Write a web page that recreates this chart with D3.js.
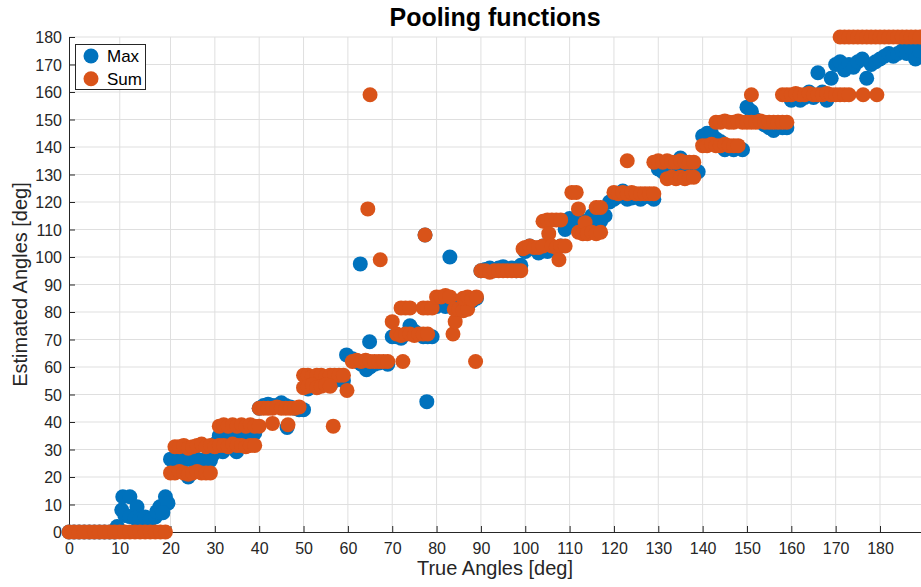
<!DOCTYPE html>
<html>
<head>
<meta charset="utf-8">
<script src="https://cdn.jsdelivr.net/npm/d3@7"></script>
<style>
  body { margin: 0; background: #fff; }
  svg { display: block; font-family: "Liberation Sans", Arial, Helvetica, sans-serif; }
  .grid line { stroke: #dfdfdf; stroke-width: 1; }
  .tick text { fill: #262626; font-size: 16px; }
</style>
</head>
<body>
<svg id="chart" width="921" height="587"></svg>
<script>
// Chart data
const xTicks = d3.range(0, 181, 10);
const yTicks = d3.range(0, 181, 10);
const seriesNames = ["Max", "Sum"];
const seriesColors = ["#0072BD", "#D95319"];

// Max pooling: [true angle, estimated angle]
const maxPoints = [
  [0,0],[1,0],[2,0],[3,0],[4,0],[5,0],[6,0],[7,0],[8,0],[9,0],[9.5,2],
  [10.4,8],[10.6,12.8],[12,12.8],[11,6],[12,5.6],[13.4,9.2],[13,5],[14,4.5],[15,5.5],[16,4.5],
  [17,5.5],[17.3,7.4],[17.9,9.2],[19,12.8],[19.5,10.5],[18.5,7],
  [20,26.5],[21,26.5],[22,26.5],[23,26],[24,20],[24.5,26.5],[25,26],[26,26.5],[27,26],[28,26.5],[29,26],[29.5,28],
  [30,32],[31,35],[31.8,29.2],[32,35],[33,35.5],[34,35],[34.9,29.2],[35,35],[36,35.5],[37,35],[38,35],[39,36],
  [40,45],[41,46],[42,46.5],[43,46],[44,46],[45,47],[46,46],[46.3,38],[47,45.5],[48,45],[49,44.5],
  [50,44.5],[51,52],[52,54],[53,55],[54,55.5],[55,55],[56,55.5],[57,55],[58,56],[59,55],
  [59.7,64.4],[61,63],[62,62],[62.8,97.5],[63,61],[64.2,59],[64.9,69.2],[65,60],[66,61],[67,61.5],[68.8,61.4],[69,61],
  [70,71],[71,71],[72,70.5],[73,72],[74,75],[75,73],[76,72],[77,71],[77.4,108],[77.8,47.4],[78,71],[79,71],
  [80,82],[81,83],[82,82],[83,100],[84,84],[85,83],[86,82],[87,82],[88,84],[89,85],
  [90,95],[91,95.5],[92,96],[93,95],[94,96],[95,96.5],[96,95.5],[97,96],[98,95],[99,97],
  [100,102],[101,104],[102,103],[103,101.5],[104,104],[105,102],[106,103],[107,103],[108,104],[109,110],
  [110,114],[111,113],[112,114],[113,112],[114,113],[115,115],[116,111],[117,113],[118,115],[119,120],
  [120,121],[121,122],[122,124],[123,121],[124,121.5],[125,122],[126,121],[127,122],[128,122],[129,121],
  [130,132],[131,131],[132,131.5],[133,132],[134,131],[135,136],[136,132],[137,131],[138,130],[139,131],
  [140,144],[141,145],[142,145],[143,143],[144,142],[145,139],[146,140],[147,139],[148,140],[149,139],
  [150,154.5],[151,153],[152,150],[153,149],[154,148],[155,147],[156,146],[157,148],[158,147],[159,147],
  [160,157],[161,158],[162,157],[163,158],[164,160],[165,158],[166,167],[167,160],[168,157],[169,165],
  [170,170],[171,171],[172,168],[173,170],[174,169],[175,171],[176,172],[177,165],[178,170],[179,171],
  [180,172],[181,173],[182,174],[183,173],[184,174],[185,175],[186,174],[187,176],[188,172],[189,175]
];

// Sum pooling: [true angle, estimated angle]
const sumPoints = [
  [0,0],[1,0],[2,0],[3,0],[4,0],[5,0],[6,0],[7,0],[8,0],[9,0],
  [10,0],[11,0],[12,0],[13,0],[14,0],[15,0],[16,0],[17,0],[18,0],[19,0],
  [20,21.5],[21,21.5],[22,22],[23,21.5],[24,21],[25,21.5],[26,22],[27,21.5],[28,21.5],[29,21.5],
  [21,31],[22,31],[23,31.5],[24,30.5],[25,31],[26,31.5],[27,32],[28,31],[29,31.5],
  [30,31],[31,31.5],[32,31.5],[33,31],[34,32],[35,31.5],[36,31.5],[37,31],[38,31.5],[39,31.5],
  [31,38.5],[32,39],[33,38.5],[34,39],[35,38.5],[36,39],[37,38.5],[38,39],[39,38.5],[40,38.5],
  [40,45],[41,45],[42,45],[43,45],[43,39.5],[44,45.5],[45,45],[46,45],[46.5,39],[47,45],[48,45],[49,45.5],
  [50,57],[51,57],[52,56.5],[53,57],[54,57],[55,56.5],[56,57],[57,57],[58,57],[59,57],
  [50,52.5],[51,53],[52,53.5],[53,52.5],[54,53],[55,53.5],[56,53],[56.7,38.5],[59.8,51.5],
  [61,62],[62,62.5],[63,62],[64,62.5],[64.5,117.5],[65,159],[65,62],[66,62],[67,62],[67.3,99],[68,62],[69,62],
  [70,76.5],[71,72],[72,81.5],[72.4,62],[73,81.5],[74,81.5],[72,71.5],[73,72],[74,72],[75,71.5],[76,72],[77,72],[77.4,108],[78,72],
  [77,81.5],[78,81.5],[79,81.5],[80,85.5],[81,85.5],[82,86],[83,85.5],[83.7,72],[84.2,76.5],
  [84,81],[85,81],[86,80.5],[87,81],[86,85],[87,85.5],[88,84.5],[88.8,62],[89,85.5],
  [90,95],[91,95],[92,94.5],[93,95],[94,95],[95,95],[96,95],[97,95],[98,95],[99,95],
  [99.5,103],[100,103.5],[101,104],[102,103.5],[103,103.5],[104,104],
  [104,113],[105,113.5],[106,113.5],[107,113.5],[108,113.5],[105.3,108.5],
  [106,104],[107,103.5],[107.6,99],[108,104],[109,104],
  [110.5,123.5],[111.5,123.5],[112,117.5],[112,109],[113,108.5],[113.5,112.5],[114,108.5],[115,109],[116,108.5],[117,109],[116,118],[117,118],
  [120,123.5],[121,123],[122,123.5],[123,123],[123,135],[124,123.5],[125,123],[126,123],[127,123],[128,123],[129,123],
  [129,134.5],[130,135],[131,134.5],[132,135],[133,134.5],[134,134.5],[135,135],[136,134.5],[137,134.5],[138,134.5],
  [132,128.5],[133,129],[134,128.5],[135,129],[136,128.5],[137,129],[138,129],
  [140,140.5],[141,140.5],[142,141],[143,140.5],[144,140.5],[145,141],[146,140.5],[147,140.5],[148,140.5],
  [143,149],[144,149],[145,149.5],[146,149],[147,149],[148,149.5],[149,149],[150,149],[151,149],[151,159],
  [152,149],[153,149.5],[154,149],[155,149],[156,149],[157,149],[158,149],[159,149],
  [158,159],[159,159],[160,159],[161,159.5],[162,159],[163,159],[164,159.5],[165,159],[166,159],[167,159],
  [168,159.5],[169,159],[170,159],[171,159],[172,159],[173,159],[176.2,159],[179.3,159],
  [171,180],[172,180],[173,180],[174,180],[175,180],[176,180],[177,180],[178,180],[179,180],
  [180,180],[181,180],[182,180],[183,180],[184,180],[185,180],[186,180],[187,180],[188,180],[189,180]
];

const width = 921;
const height = 587;
const plotLeft = 69, plotRight = 921, plotTop = 37, plotBottom = 532;

const svg = d3.select("#chart");

// x axis in the picture is stretched over the first 20 degrees
const x = d3.scaleLinear()
    .domain([0, 20, 180])
    .range([plotLeft, 170.5, 880]);

const y = d3.scaleLinear()
    .domain([0, 180])
    .range([plotBottom, plotTop]);

// Grid
const grid = svg.append("g").attr("class", "grid");
grid.selectAll(".vg")
    .data(xTicks.filter(d => d > 0))
    .enter().append("line")
    .attr("x1", d => x(d)).attr("x2", d => x(d))
    .attr("y1", plotTop).attr("y2", plotBottom);
grid.selectAll(".hg")
    .data(yTicks.filter(d => d > 0))
    .enter().append("line")
    .attr("x1", plotLeft).attr("x2", plotRight)
    .attr("y1", d => y(d)).attr("y2", d => y(d));

// Axes
const xAxis = d3.axisBottom(x).tickValues(xTicks).tickSize(-6).tickPadding(11);
const yAxis = d3.axisLeft(y).tickValues(yTicks).tickSize(-6).tickPadding(7);

const gx = svg.append("g")
    .attr("transform", `translate(0,${plotBottom})`)
    .call(xAxis);
gx.select(".domain").attr("d", `M${plotLeft},0.5H${plotRight}`);

const gy = svg.append("g")
    .attr("transform", `translate(${plotLeft},0)`)
    .call(yAxis);
gy.select(".domain").attr("d", `M0.5,${plotTop}V${plotBottom}`);

svg.selectAll(".domain").attr("stroke", "#262626").attr("stroke-width", 1);
svg.selectAll(".tick line").attr("stroke", "#262626");
gy.selectAll(".tick text").attr("dy", "0.35em");

// Points: Max first, Sum drawn on top
const plot = svg.append("g");
plot.selectAll(".max")
    .data(maxPoints)
    .enter().append("circle")
    .attr("class", "max")
    .attr("cx", d => x(d[0]))
    .attr("cy", d => y(d[1]))
    .attr("r", 7.5)
    .attr("fill", seriesColors[0]);

plot.selectAll(".sum")
    .data(sumPoints)
    .enter().append("circle")
    .attr("class", "sum")
    .attr("cx", d => x(d[0]))
    .attr("cy", d => y(d[1]))
    .attr("r", 7.5)
    .attr("fill", seriesColors[1]);

// Title and labels
svg.append("text")
    .attr("x", (plotLeft + plotRight) / 2)
    .attr("y", 26)
    .attr("text-anchor", "middle")
    .attr("font-size", 25)
    .attr("font-weight", "bold")
    .attr("fill", "#000")
    .text("Pooling functions");

svg.append("text")
    .attr("x", (plotLeft + plotRight) / 2)
    .attr("y", 575)
    .attr("text-anchor", "middle")
    .attr("font-size", 20)
    .attr("fill", "#262626")
    .text("True Angles [deg]");

svg.append("text")
    .attr("transform", `translate(27,${(plotTop + plotBottom) / 2}) rotate(-90)`)
    .attr("text-anchor", "middle")
    .attr("font-size", 20)
    .attr("fill", "#262626")
    .text("Estimated Angles [deg]");

// Legend
const legend = svg.append("g");
legend.append("rect")
    .attr("x", 75.5).attr("y", 44.5)
    .attr("width", 70).attr("height", 45)
    .attr("fill", "#fff")
    .attr("stroke", "#262626")
    .attr("stroke-width", 1);

const item = legend.selectAll(".item")
    .data(seriesNames)
    .enter().append("g")
    .attr("transform", (d, i) => `translate(91,${56 + i * 22.7})`);
item.append("circle")
    .attr("r", 7.5)
    .attr("fill", (d, i) => seriesColors[i]);
item.append("text")
    .attr("x", 16)
    .attr("dy", "0.35em")
    .attr("font-size", 17)
    .attr("fill", "#000")
    .text(d => d);
</script>
</body>
</html>
